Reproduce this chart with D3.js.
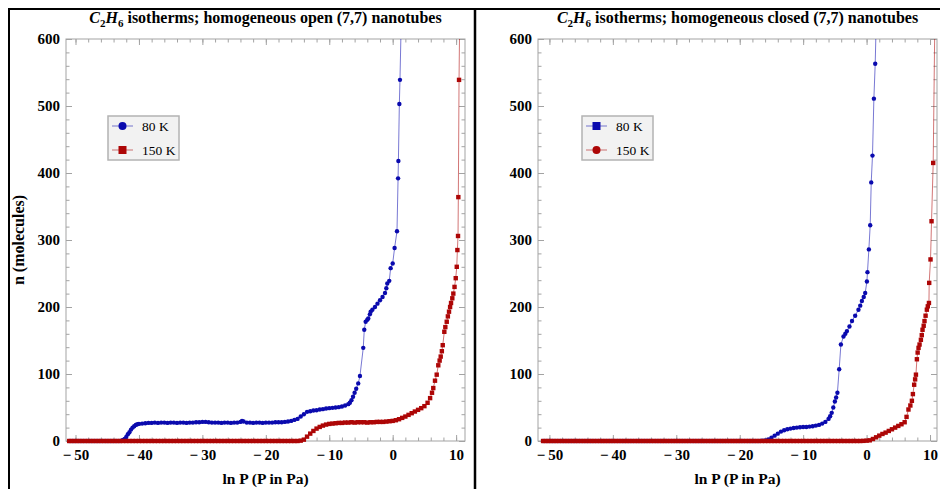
<!DOCTYPE html>
<html>
<head>
<meta charset="utf-8">
<script src="https://cdn.jsdelivr.net/npm/d3@7"></script>
<style>
  body { margin: 0; background: #fff; }
  svg { display: block; }
</style>
</head>
<body>
<svg id="fig" width="940" height="489"></svg>
<script>
// Axis ticks and legend labels
const xTicks = [-50, -40, -30, -20, -10, 0, 10];
const yTicks = [0, 100, 200, 300, 400, 500, 600];
const legendLabels = ["80 K", "150 K"];

// Open (7,7) nanotubes, 80 K: [ln P, n]
const open80K = [
  [-51,0],[-50.5,0],[-50,0],[-49.5,0],[-49,0],[-48.5,0],[-48,0],[-47.5,0],[-47,0],[-46.5,0],
  [-46,0],[-45.5,0],[-45,0],[-44.5,0],[-44,0],[-43.5,0],[-43,0],
  [-42.75,0.5],[-42.5,1.5],[-42.25,3],[-42,6],[-41.75,10],[-41.5,13],[-41.25,17],[-41,20],
  [-40.75,22],[-40.5,24],[-40.25,25],[-40,25.5],[-39.5,26],[-39,26.5],[-38.5,27],[-38,27],
  [-37.5,27.5],[-37,27],[-36.5,27.5],[-36,27.5],[-35.5,27],[-35,27.5],[-34.5,27.5],[-34,27],
  [-33.5,27.5],[-33,27.5],[-32.5,27],[-32,27.5],[-31.5,27.5],[-31,28],[-30.5,28],[-30,28.5],
  [-29.5,28.5],[-29,28],[-28.5,27.5],[-28,27.5],[-27.5,27.5],[-27,27],[-26.5,27.5],[-26,27.5],
  [-25.5,27],[-25,27.5],[-24.5,27.5],[-24,28.5],[-23.75,30],[-23.5,29],[-23,27.5],[-22.5,27.5],
  [-22,27],[-21.5,27.5],[-21,27.5],[-20.5,27],[-20,27.5],[-19.5,27.5],[-19,27.5],[-18.5,28],
  [-18,28],[-17.5,28],[-17,28.5],[-16.5,29],[-16,30],[-15.5,31.5],[-15,33],[-14.5,36.5],
  [-14,40],[-13.5,43.5],[-13,44.5],[-12.5,45.5],[-12,46],[-11.5,47],[-11,47.5],[-10.5,48.5],
  [-10,49],[-9.5,49.5],[-9,50],[-8.5,50.5],[-8,51.5],[-7.5,53],[-7,55],[-6.75,57],[-6.5,61],
  [-6.25,66],[-6,72],[-5.75,78],[-5.43,86],[-5.16,97],[-4.64,139],[-4.48,166],[-4.26,178],
  [-4,181],[-3.85,183],[-3.6,189],[-3.47,193],[-3.2,196],[-2.79,200],[-2.4,205],[-2,210],
  [-1.6,215],[-1.21,221],[-1,228],[-0.85,235],[-0.54,239],[-0.32,258],[0,265],[0.3,288],
  [0.68,313],[0.85,392],[0.9,418],[1.05,503],[1.15,539],[1.4,650]
];

// Open (7,7) nanotubes, 150 K
const open150K = [
  [-51,0],[-50.5,0],[-50,0],[-49.5,0],[-49,0],[-48.5,0],[-48,0],[-47.5,0],[-47,0],[-46.5,0],
  [-46,0],[-45.5,0],[-45,0],[-44.5,0],[-44,0],[-43.5,0],[-43,0],[-42.5,0],[-42,0],[-41.5,0],
  [-41,0],[-40.5,0],[-40,0],[-39.5,0],[-39,0],[-38.5,0],[-38,0],[-37.5,0],[-37,0],[-36.5,0],
  [-36,0],[-35.5,0],[-35,0],[-34.5,0],[-34,0],[-33.5,0],[-33,0],[-32.5,0],[-32,0],[-31.5,0],
  [-31,0],[-30.5,0],[-30,0],[-29.5,0],[-29,0],[-28.5,0],[-28,0],[-27.5,0],[-27,0],[-26.5,0],
  [-26,0],[-25.5,0],[-25,0],[-24.5,0],[-24,0],[-23.5,0],[-23,0],[-22.5,0],[-22,0],[-21.5,0],
  [-21,0],[-20.5,0],[-20,0],[-19.5,0],[-19,0],[-18.5,0],[-18,0],[-17.5,0],[-17,0],[-16.5,0],
  [-16,0],[-15.5,0],[-15,0],
  [-14.5,0.5],[-14,2],[-13.5,6.5],[-13,11],[-12.5,15],[-12,18.5],[-11.5,21],[-11,23],
  [-10.5,24.5],[-10,25.5],[-9.5,26],[-9,26.5],[-8.5,27],[-8,27],[-7.5,27.5],[-7,27.5],
  [-6.5,28],[-6,27.5],[-5.5,28],[-5,28],[-4.5,28],[-4,27.5],[-3.5,28],[-3,28],[-2.5,28.5],
  [-2,28.5],[-1.5,28.5],[-1,29],[-0.5,29.5],[0,30],[0.5,31],[1,32.5],[1.5,34.5],[2,36.5],
  [2.5,39],[3,41.5],[3.5,44],[4,46.5],[4.5,49],[5,52],[5.5,57],[5.9,64],[6.2,72],[6.4,79],
  [6.67,90],[6.94,99],[7.19,113],[7.4,120],[7.57,126],[7.75,134],[7.89,143],[8.14,163],
  [8.3,170],[8.52,178],[8.7,186],[8.88,193],[9.05,200],[9.2,206],[9.4,213],[9.56,220],
  [9.75,230],[9.94,243],[10.1,260],[10.2,285],[10.3,306],[10.35,364],[10.46,539],[10.6,660]
];

// Closed (7,7) nanotubes, 80 K
const closed80K = [
  [-51,0],[-50.5,0],[-50,0],[-49.5,0],[-49,0],[-48.5,0],[-48,0],[-47.5,0],[-47,0],[-46.5,0],
  [-46,0],[-45.5,0],[-45,0],[-44.5,0],[-44,0],[-43.5,0],[-43,0],[-42.5,0],[-42,0],[-41.5,0],
  [-41,0],[-40.5,0],[-40,0],[-39.5,0],[-39,0],[-38.5,0],[-38,0],[-37.5,0],[-37,0],[-36.5,0],
  [-36,0],[-35.5,0],[-35,0],[-34.5,0],[-34,0],[-33.5,0],[-33,0],[-32.5,0],[-32,0],[-31.5,0],
  [-31,0],[-30.5,0],[-30,0],[-29.5,0],[-29,0],[-28.5,0],[-28,0],[-27.5,0],[-27,0],[-26.5,0],
  [-26,0],[-25.5,0],[-25,0],[-24.5,0],[-24,0],[-23.5,0],[-23,0],[-22.5,0],[-22,0],[-21.5,0],
  [-21,0],[-20.5,0],[-20,0],[-19.5,0],[-19,0],[-18.5,0],[-18,0],[-17.5,0],[-17,0],
  [-16.5,0.3],[-16,1],[-15.5,2.5],[-15,5],[-14.5,8],[-14,11],[-13.5,14],[-13,16],[-12.5,17.5],
  [-12,18.5],[-11.5,19.5],[-11,20],[-10.5,20.5],[-10,21],[-9.5,21],[-9,21.5],[-8.5,22],
  [-8,23],[-7.5,24],[-7,26],[-6.5,28.5],[-6,33],[-5.75,37],[-5.5,42],[-5.25,50],[-5,59],
  [-4.8,65],[-4.6,72],[-4.32,107],[-4.05,144],[-3.64,156],[-3.35,160],[-3.1,164],[-2.7,171],
  [-2.3,179],[-1.8,187],[-1.28,196],[-1,202],[-0.74,209],[-0.45,215],[-0.22,221],[0.05,238],
  [0.14,252],[0.36,286],[0.57,322],[0.73,386],[0.93,426],[1.15,511],[1.36,563],[1.6,660]
];

// Closed (7,7) nanotubes, 150 K
const closed150K = [
  [-51,0],[-50.5,0],[-50,0],[-49.5,0],[-49,0],[-48.5,0],[-48,0],[-47.5,0],[-47,0],[-46.5,0],
  [-46,0],[-45.5,0],[-45,0],[-44.5,0],[-44,0],[-43.5,0],[-43,0],[-42.5,0],[-42,0],[-41.5,0],
  [-41,0],[-40.5,0],[-40,0],[-39.5,0],[-39,0],[-38.5,0],[-38,0],[-37.5,0],[-37,0],[-36.5,0],
  [-36,0],[-35.5,0],[-35,0],[-34.5,0],[-34,0],[-33.5,0],[-33,0],[-32.5,0],[-32,0],[-31.5,0],
  [-31,0],[-30.5,0],[-30,0],[-29.5,0],[-29,0],[-28.5,0],[-28,0],[-27.5,0],[-27,0],[-26.5,0],
  [-26,0],[-25.5,0],[-25,0],[-24.5,0],[-24,0],[-23.5,0],[-23,0],[-22.5,0],[-22,0],[-21.5,0],
  [-21,0],[-20.5,0],[-20,0],[-19.5,0],[-19,0],[-18.5,0],[-18,0],[-17.5,0],[-17,0],[-16.5,0],
  [-16,0],[-15.5,0],[-15,0],[-14.5,0],[-14,0],[-13.5,0],[-13,0],[-12.5,0],[-12,0],[-11.5,0],
  [-11,0],[-10.5,0],[-10,0],[-9.5,0],[-9,0],[-8.5,0],[-8,0],[-7.5,0],[-7,0],[-6.5,0],
  [-6,0],[-5.5,0],[-5,0],[-4.5,0],[-4,0],[-3.5,0],[-3,0],[-2.5,0],[-2,0],[-1.5,0],
  [-1,0],[-0.5,0.2],[0,0.5],[0.5,1],[1,3],[1.5,5.5],[2,8],[2.5,10.5],[3,12.5],[3.5,15],
  [4,17.5],[4.5,20],[5,22.5],[5.5,25],[6,28],[6.3,36],[6.6,47],[6.9,53],[7.14,60],[7.3,70],
  [7.5,84],[7.65,92],[7.78,99],[7.93,122],[8.05,132],[8.19,139],[8.35,144],[8.56,151],
  [8.7,158],[8.82,166],[9,172],[9.13,179],[9.3,187],[9.5,196],[9.65,201],[9.83,206],
  [9.87,236],[10.08,271],[10.24,328],[10.5,415],[10.8,660]
];

const BLUE = "#0a0aae";
const RED = "#ad0606";
const SERIF = "'Liberation Serif', 'Times New Roman', serif";

const panels = [
  {
    kind: "open", left: 66, right: 465, xDomain: [-51.5, 11.4],
    series: [
      { data: open80K, color: BLUE, shape: "circle" },
      { data: open150K, color: RED, shape: "square" }
    ],
    legendShapes: ["circle", "square"], legendX: 108, yLabel: true
  },
  {
    kind: "closed", left: 538, right: 937, xDomain: [-51.8, 11.1],
    series: [
      { data: closed80K, color: BLUE, shape: "circle" },
      { data: closed150K, color: RED, shape: "square" }
    ],
    legendShapes: ["square", "circle"], legendX: 582, yLabel: false
  }
];

const TOP = 39, BOTTOM = 441;
const svg = d3.select("#fig");
const fmtTick = d => d < 0 ? "\u2212\u2009" + Math.abs(d) : String(d);

function styleAxis(g) {
  g.select(".domain").remove();
  g.selectAll(".tick line").attr("stroke", "#a3a3a3").attr("stroke-width", 1);
  g.selectAll(".tick text")
    .attr("fill", "#000")
    .style("font-family", SERIF)
    .style("font-weight", "bold")
    .style("font-size", "15px");
}

function drawMarker(sel, shape, cx, cy, size, color) {
  if (shape === "circle") {
    sel.append("circle").attr("cx", cx).attr("cy", cy).attr("r", size / 2).attr("fill", color);
  } else {
    sel.append("rect").attr("x", cx - size / 2).attr("y", cy - size / 2)
      .attr("width", size).attr("height", size).attr("fill", color);
  }
}

panels.forEach((p, pi) => {
  const x = d3.scaleLinear().domain(p.xDomain).range([p.left, p.right]);
  const y = d3.scaleLinear().domain([0, 600]).range([BOTTOM, TOP]);
  const g = svg.append("g");
  const xMinor = d3.range(-50, 11, 2);
  const yMinor = d3.range(0, 601, 20);

  // minor ticks on all four sides
  [[d3.axisBottom(x), `translate(0,${BOTTOM})`, xMinor],
   [d3.axisTop(x), `translate(0,${TOP})`, xMinor],
   [d3.axisLeft(y), `translate(${p.left},0)`, yMinor],
   [d3.axisRight(y), `translate(${p.right},0)`, yMinor]].forEach(([ax, tr, vals]) => {
    g.append("g").attr("transform", tr)
      .call(ax.tickValues(vals).tickFormat(() => "").tickSizeInner(-3.5).tickSizeOuter(0))
      .call(styleAxis);
  });

  // major ticks; labels on bottom and left only
  g.append("g").attr("transform", `translate(0,${BOTTOM})`)
    .call(d3.axisBottom(x).tickValues(xTicks).tickFormat(fmtTick).tickSizeInner(-6).tickSizeOuter(0).tickPadding(8))
    .call(styleAxis);
  g.append("g").attr("transform", `translate(0,${TOP})`)
    .call(d3.axisTop(x).tickValues(xTicks).tickFormat(() => "").tickSizeInner(-6).tickSizeOuter(0))
    .call(styleAxis);
  g.append("g").attr("transform", `translate(${p.left},0)`)
    .call(d3.axisLeft(y).tickValues(yTicks).tickFormat(fmtTick).tickSizeInner(-6).tickSizeOuter(0).tickPadding(6))
    .call(styleAxis);
  g.append("g").attr("transform", `translate(${p.right},0)`)
    .call(d3.axisRight(y).tickValues(yTicks).tickFormat(() => "").tickSizeInner(-6).tickSizeOuter(0))
    .call(styleAxis);

  // plot frame
  g.append("rect").attr("x", p.left).attr("y", TOP)
    .attr("width", p.right - p.left).attr("height", BOTTOM - TOP)
    .attr("fill", "none").attr("stroke", "#a3a3a3").attr("stroke-width", 1);

  // clip region: open at the bottom so the n = 0 markers stay whole
  const clipId = "clip" + pi;
  svg.append("clipPath").attr("id", clipId).append("rect")
    .attr("x", p.left - 6).attr("y", TOP)
    .attr("width", p.right - p.left + 12).attr("height", BOTTOM - TOP + 10);
  const plot = g.append("g").attr("clip-path", `url(#${clipId})`);

  const line = d3.line().x(d => x(d[0])).y(d => y(d[1]));
  p.series.forEach(s => {
    const sg = plot.append("g");
    sg.append("path").datum(s.data).attr("d", line)
      .attr("fill", "none").attr("stroke", s.color)
      .attr("stroke-opacity", 0.55).attr("stroke-width", 1);
    if (s.shape === "circle") {
      sg.selectAll("circle").data(s.data).join("circle")
        .attr("cx", d => x(d[0])).attr("cy", d => y(d[1])).attr("r", 2.2)
        .attr("fill", s.color);
    } else {
      sg.selectAll("rect").data(s.data).join("rect")
        .attr("x", d => x(d[0]) - 2.2).attr("y", d => y(d[1]) - 2.2)
        .attr("width", 4.4).attr("height", 4.4).attr("fill", s.color);
    }
  });

  // title
  const cx = (p.left + p.right) / 2;
  const t = svg.append("text").attr("x", cx).attr("y", 23)
    .attr("text-anchor", "middle")
    .style("font-family", SERIF).style("font-weight", "bold").style("font-size", "16px");
  t.append("tspan").style("font-style", "italic").text("C");
  t.append("tspan").attr("dy", 4).style("font-size", "11px").text("2");
  t.append("tspan").attr("dy", -4).style("font-style", "italic").text("H");
  t.append("tspan").attr("dy", 4).style("font-size", "11px").text("6");
  t.append("tspan").attr("dy", -4).text(` isotherms; homogeneous ${p.kind} (7,7) nanotubes`);

  // x label
  svg.append("text").attr("x", cx).attr("y", 484).attr("text-anchor", "middle")
    .style("font-family", SERIF).style("font-weight", "bold").style("font-size", "15.5px")
    .text("ln P (P in Pa)");

  if (p.yLabel) {
    svg.append("text").attr("transform", `translate(24,${(TOP + BOTTOM) / 2}) rotate(-90)`)
      .attr("text-anchor", "middle")
      .style("font-family", SERIF).style("font-weight", "bold").style("font-size", "16px")
      .text("n  (molecules)");
  }

  // legend
  const lx = p.legendX, ly = 116;
  const lg = svg.append("g");
  lg.append("rect").attr("x", lx).attr("y", ly).attr("width", 71).attr("height", 44)
    .attr("fill", "#f2f2f2").attr("stroke", "#b3b3b3").attr("stroke-width", 1.5);
  legendLabels.forEach((lab, i) => {
    const s = p.series[i];
    const ey = ly + 10 + i * 24;
    lg.append("line").attr("x1", lx + 4).attr("x2", lx + 25).attr("y1", ey).attr("y2", ey)
      .attr("stroke", s.color).attr("stroke-opacity", 0.45).attr("stroke-width", 1.2);
    drawMarker(lg, p.legendShapes[i], lx + 14.5, ey, 8, s.color);
    lg.append("text").attr("x", lx + 34).attr("y", ey + 4.5)
      .style("font-family", SERIF).style("font-size", "13.5px").text(lab);
  });
});

// figure borders
const borders = [
  [8, 9, 940, 9, 2],
  [9, 8, 9, 489, 2],
  [475, 8, 475, 489, 2.5]
];
svg.selectAll("line.border").data(borders).join("line").attr("class", "border")
  .attr("x1", d => d[0]).attr("y1", d => d[1]).attr("x2", d => d[2]).attr("y2", d => d[3])
  .attr("stroke", "#000").attr("stroke-width", d => d[4]);
</script>
</body>
</html>
